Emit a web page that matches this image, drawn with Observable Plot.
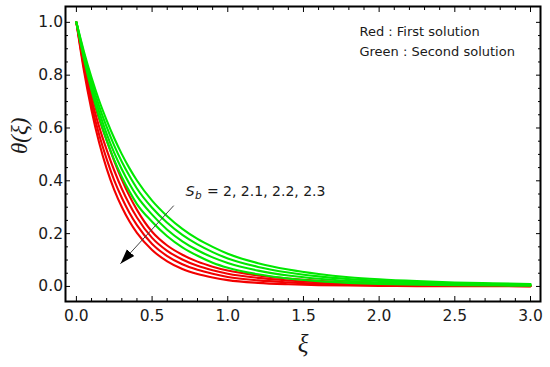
<!DOCTYPE html>
<html>
<head>
<meta charset="utf-8">
<script src="https://cdn.jsdelivr.net/npm/d3@7"></script>
<script src="https://cdn.jsdelivr.net/npm/@observablehq/plot@0.6"></script>
<style>
  html, body { margin: 0; padding: 0; background: #fff; }
  #chart { width: 550px; height: 367px; }
</style>
</head>
<body>
<div id="chart"></div>
<script>
// ---- data ----
const xi = [0, 0.05, 0.1, 0.15, 0.2, 0.25, 0.3, 0.35, 0.4, 0.5, 0.6, 0.7, 0.8, 0.9, 1.0, 1.2, 1.4, 1.6, 1.8, 2.0, 2.25, 2.5, 2.75, 3.0];

// Red: first solution, Sb = 2, 2.1, 2.2, 2.3
const red1 = [1, 0.855, 0.73, 0.635, 0.553, 0.475, 0.405, 0.343, 0.29, 0.207, 0.155, 0.12, 0.094, 0.075, 0.06, 0.042, 0.03, 0.021, 0.015, 0.011, 0.0075, 0.0052, 0.0037, 0.0027];
const red2 = [1, 0.842, 0.709, 0.605, 0.517, 0.439, 0.370, 0.311, 0.261, 0.184, 0.135, 0.102, 0.078, 0.061, 0.048, 0.0325, 0.0227, 0.0157, 0.0111, 0.0081, 0.0055, 0.0038, 0.0027, 0.0019];
const red3 = [1, 0.829, 0.688, 0.575, 0.482, 0.402, 0.336, 0.279, 0.232, 0.161, 0.115, 0.084, 0.063, 0.048, 0.036, 0.023, 0.0155, 0.0103, 0.0072, 0.0051, 0.0034, 0.0023, 0.0016, 0.0012];
const red4 = [1, 0.816, 0.667, 0.545, 0.446, 0.366, 0.301, 0.247, 0.203, 0.138, 0.095, 0.066, 0.047, 0.034, 0.024, 0.0135, 0.0082, 0.005, 0.0033, 0.0022, 0.0014, 0.0009, 0.0006, 0.0004];

// Green: second solution, Sb = 2, 2.1, 2.2, 2.3
const green1 = [1, 0.889, 0.791, 0.704, 0.629, 0.561, 0.501, 0.448, 0.401, 0.325, 0.266, 0.218, 0.180, 0.150, 0.124, 0.088, 0.064, 0.047, 0.035, 0.027, 0.020, 0.015, 0.012, 0.009];
const green2 = [1, 0.880, 0.775, 0.683, 0.604, 0.533, 0.472, 0.419, 0.371, 0.298, 0.241, 0.195, 0.159, 0.130, 0.106, 0.074, 0.0527, 0.038, 0.0278, 0.0211, 0.0154, 0.0115, 0.0092, 0.007];
const green3 = [1, 0.870, 0.758, 0.662, 0.578, 0.506, 0.444, 0.389, 0.342, 0.272, 0.215, 0.171, 0.137, 0.110, 0.0887, 0.060, 0.0413, 0.029, 0.0207, 0.0152, 0.0108, 0.008, 0.0063, 0.0049];
const green4 = [1, 0.861, 0.742, 0.641, 0.553, 0.478, 0.415, 0.360, 0.312, 0.245, 0.190, 0.148, 0.116, 0.090, 0.071, 0.046, 0.030, 0.020, 0.0135, 0.0093, 0.0062, 0.0045, 0.0035, 0.0029];

const xMajor = [0, 0.5, 1, 1.5, 2, 2.5, 3];
const xMinor = [0.1, 0.2, 0.3, 0.4, 0.6, 0.7, 0.8, 0.9, 1.1, 1.2, 1.3, 1.4, 1.6, 1.7, 1.8, 1.9, 2.1, 2.2, 2.3, 2.4, 2.6, 2.7, 2.8, 2.9];
const yMajor = [0, 0.2, 0.4, 0.6, 0.8, 1.0];
const yMinor = [0.05, 0.1, 0.15, 0.25, 0.3, 0.35, 0.45, 0.5, 0.55, 0.65, 0.7, 0.75, 0.85, 0.9, 0.95];

const legendLines = ["Red : First solution", "Green : Second solution"];
const sbName = "S";
const sbSub = "b";
const sbValues = "= 2, 2.1, 2.2, 2.3";
const yLabel = "θ(ξ)";
const xLabel = "ξ";

// annotation anchors (data coordinates)
const legendAt = [{x: 1.87, y: 0.95}, {x: 1.87, y: 0.874}];
const sbAt = [{x: 0.72, y: 0.344}];
const arrowAt = [{x1: 0.643, y1: 0.306, x2: 0.291, y2: 0.086}];

// ---- build table ----
const redSeries = [red1, red2, red3, red4];
const greenSeries = [green1, green2, green3, green4];
const redRows = redSeries.flatMap((s, k) => s.map((v, i) => ({x: xi[i], y: v, s: "r" + k})));
const greenRows = greenSeries.flatMap((s, k) => s.map((v, i) => ({x: xi[i], y: v, s: "g" + k})));

function filledArrow() {
  const ns = "http://www.w3.org/2000/svg";
  const m = document.createElementNS(ns, "marker");
  m.setAttribute("viewBox", "0 -5 10 10");
  m.setAttribute("refX", "10");
  m.setAttribute("refY", "0");
  m.setAttribute("markerWidth", "15");
  m.setAttribute("markerHeight", "15");
  m.setAttribute("markerUnits", "userSpaceOnUse");
  m.setAttribute("orient", "auto");
  const p = document.createElementNS(ns, "path");
  p.setAttribute("d", "M0,-3.3L10,0L0,3.3Z");
  p.setAttribute("fill", "black");
  p.setAttribute("stroke", "none");
  m.appendChild(p);
  return m;
}

const blank = () => "";
const serif = "'Liberation Serif', 'DejaVu Serif', serif";
const sans = "'DejaVu Sans', 'Liberation Sans', sans-serif";

const chart = Plot.plot({
  width: 550,
  height: 367,
  marginLeft: 65,
  marginRight: 10,
  marginTop: 6,
  marginBottom: 66,
  x: {domain: [-0.072, 3.066], axis: null},
  y: {domain: [-0.057, 1.06], axis: null},
  style: {fontFamily: sans, fontSize: "15.5px", color: "black", background: "white"},
  marks: [
    Plot.line(redRows, {x: "x", y: "y", z: "s", stroke: "#f20000", strokeWidth: 2.1, curve: "monotone-x"}),
    Plot.line(greenRows, {x: "x", y: "y", z: "s", stroke: "#00e800", strokeWidth: 2.1, curve: "monotone-x"}),
    // frame ticks (inward)
    Plot.axisX(xMajor, {anchor: "bottom", tickSize: -5, tickFormat: blank, label: null}),
    Plot.axisX(xMinor, {anchor: "bottom", tickSize: -3, tickFormat: blank, label: null}),
    Plot.axisX(xMajor, {anchor: "top", tickSize: -5, tickFormat: blank, label: null}),
    Plot.axisX(xMinor, {anchor: "top", tickSize: -3, tickFormat: blank, label: null}),
    Plot.axisY(yMajor, {anchor: "left", tickSize: -5, tickFormat: blank, label: null}),
    Plot.axisY(yMinor, {anchor: "left", tickSize: -3, tickFormat: blank, label: null}),
    Plot.axisY(yMajor, {anchor: "right", tickSize: -5, tickFormat: blank, label: null}),
    Plot.axisY(yMinor, {anchor: "right", tickSize: -3, tickFormat: blank, label: null}),
    // tick labels
    Plot.axisX(xMajor, {anchor: "bottom", tickSize: 0, tickPadding: 8, tickFormat: d3.format(".1f"), label: null, fill: "#1a1a1a"}),
    Plot.axisY(yMajor, {anchor: "left", tickSize: 0, tickPadding: 2.5, tickFormat: d3.format(".1f"), label: null, fill: "#1a1a1a"}),
    Plot.frame({stroke: "black", strokeWidth: 2}),
    // axis titles
    Plot.text([yLabel], {frameAnchor: "left", rotate: -90, dx: -46, fontStyle: "italic", fontSize: 23, fontFamily: serif, fill: "#1a1a1a"}),
    Plot.text([xLabel], {frameAnchor: "bottom", dy: 50, fontStyle: "italic", fontSize: 25, fontFamily: serif, fill: "#1a1a1a"}),
    // legend text
    Plot.text(legendAt, {x: "x", y: "y", text: (d, i) => legendLines[i], textAnchor: "start", lineAnchor: "bottom", fontSize: 13, fill: "#1a1a1a"}),
    // arrow annotation
    Plot.link(arrowAt, {x1: "x1", y1: "y1", x2: "x2", y2: "y2", stroke: "#444", strokeWidth: 1, markerEnd: filledArrow}),
    Plot.text(sbAt, {x: "x", y: "y", text: () => sbName, textAnchor: "start", lineAnchor: "bottom", fontStyle: "italic", fontSize: 14.5, fill: "#1a1a1a"}),
    Plot.text(sbAt, {x: "x", y: "y", text: () => sbSub, textAnchor: "start", lineAnchor: "bottom", dx: 9.5, dy: 3.5, fontStyle: "italic", fontSize: 10.5, fill: "#1a1a1a"}),
    Plot.text(sbAt, {x: "x", y: "y", text: () => sbValues, textAnchor: "start", lineAnchor: "bottom", dx: 21.5, fontSize: 14, fill: "#1a1a1a"})
  ]
});
document.getElementById("chart").appendChild(chart);
</script>
</body>
</html>
